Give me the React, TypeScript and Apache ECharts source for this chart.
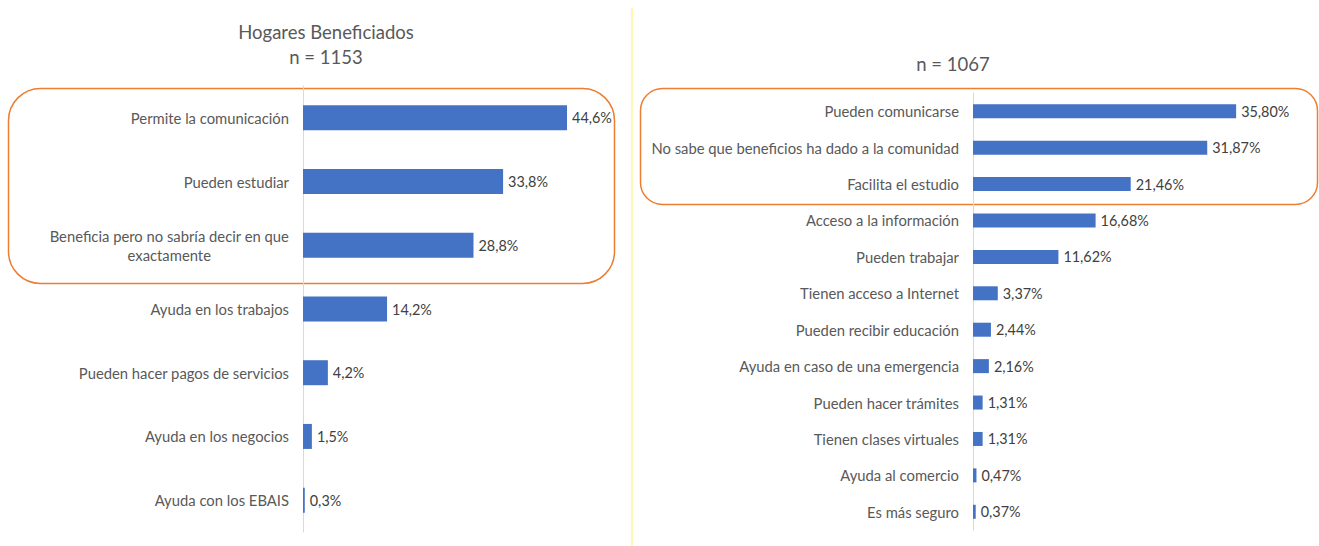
import React, { useEffect, useRef } from "react";
import * as echarts from "echarts";

const leftCategories = [
  "Permite la comunicación",
  "Pueden estudiar",
  "Beneficia pero no sabría decir en que\nexactamente",
  "Ayuda en los trabajos",
  "Pueden hacer pagos de servicios",
  "Ayuda en los negocios",
  "Ayuda con los EBAIS",
];
const leftValues = [44.6, 33.8, 28.8, 14.2, 4.2, 1.5, 0.3];

const rightCategories = [
  "Pueden comunicarse",
  "No sabe que beneficios ha dado a la comunidad",
  "Facilita el estudio",
  "Acceso a la información",
  "Pueden trabajar",
  "Tienen acceso a Internet",
  "Pueden recibir educación",
  "Ayuda en caso de una emergencia",
  "Pueden hacer trámites",
  "Tienen clases virtuales",
  "Ayuda al comercio",
  "Es más seguro",
];
const rightValues = [35.8, 31.87, 21.46, 16.68, 11.62, 3.37, 2.44, 2.16, 1.31, 1.31, 0.47, 0.37];

const leftTitle = "Hogares Beneficiados";
const leftN = "n = 1153";
const rightN = "n = 1067";

const FONT = "Lato";
const fmt = (v: number, d: number) => v.toFixed(d).replace(".", ",") + "%";

export default function App() {
  const ref = useRef<HTMLDivElement>(null);
  useEffect(() => {
    document.body.style.margin = "0";
    const chart = echarts.init(ref.current!, null, { renderer: "svg" });
    const catLabel = {
      color: "#595959",
      fontSize: 14.8,
      fontFamily: FONT,
      margin: 14,
      lineHeight: 19,
    };
    const valLabel = {
      show: true,
      position: "right",
      distance: 5,
      color: "#404040",
      fontSize: 14.4,
      fontFamily: FONT,
    };
    const titleStyle = {
      fill: "#595959",
      fontSize: 18.5,
      fontFamily: FONT,
      textAlign: "center",
      textVerticalAlign: "middle",
    };
    chart.setOption({
      animation: false,
      backgroundColor: "#ffffff",
      grid: [
        { left: 303, top: 86, width: 296, height: 446, containLabel: false },
        { left: 973, top: 93, width: 294, height: 437, containLabel: false },
      ],
      xAxis: [
        { type: "value", gridIndex: 0, min: 0, max: 50, show: false },
        { type: "value", gridIndex: 1, min: 0, max: 40, show: false },
      ],
      yAxis: [
        {
          type: "category",
          gridIndex: 0,
          inverse: true,
          data: leftCategories,
          axisLine: { show: true, lineStyle: { color: "#d9d9d9", width: 1 } },
          axisTick: { show: false },
          axisLabel: {
            ...catLabel,
            formatter: (v: string) =>
              v.includes("\n")
                ? v
                    .split("\n")
                    .map((s) => `{c|${s}}`)
                    .join("\n")
                : v,
            rich: {
              c: { align: "center", color: "#595959", fontSize: 14.8, fontFamily: FONT, lineHeight: 19 },
            },
          },
        },
        {
          type: "category",
          gridIndex: 1,
          inverse: true,
          data: rightCategories,
          axisLine: { show: true, lineStyle: { color: "#d9d9d9", width: 1 } },
          axisTick: { show: false },
          axisLabel: catLabel,
        },
      ],
      series: [
        {
          type: "bar",
          xAxisIndex: 0,
          yAxisIndex: 0,
          data: leftValues,
          barWidth: 25,
          itemStyle: { color: "#4472C4" },
          label: { ...valLabel, formatter: (p: any) => fmt(p.value, 1) },
        },
        {
          type: "bar",
          xAxisIndex: 1,
          yAxisIndex: 1,
          data: rightValues,
          barWidth: 14,
          itemStyle: { color: "#4472C4" },
          label: { ...valLabel, formatter: (p: any) => fmt(p.value, 2) },
        },
      ],
      graphic: [
        {
          type: "line",
          shape: { x1: 632, y1: 8, x2: 632, y2: 546 },
          style: { stroke: "#fff59a", lineWidth: 1.5 },
          silent: true,
        },
        {
          type: "rect",
          shape: { x: 8.5, y: 88.5, width: 606, height: 195, r: 32 },
          style: { fill: "none", stroke: "#ED7D31", lineWidth: 1.5 },
          silent: true,
        },
        {
          type: "rect",
          shape: { x: 640.5, y: 88.5, width: 677, height: 116, r: 22 },
          style: { fill: "none", stroke: "#ED7D31", lineWidth: 1.5 },
          silent: true,
        },
        { type: "text", x: 326, y: 32, style: { text: leftTitle, ...titleStyle } },
        { type: "text", x: 326, y: 57, style: { text: leftN, ...titleStyle } },
        { type: "text", x: 953, y: 64, style: { text: rightN, ...titleStyle } },
      ],
    });
    return () => chart.dispose();
  }, []);
  return (
    <div
      ref={ref}
      style={{ position: "absolute", left: 0, top: 0, width: 1319, height: 546 }}
    />
  );
}
